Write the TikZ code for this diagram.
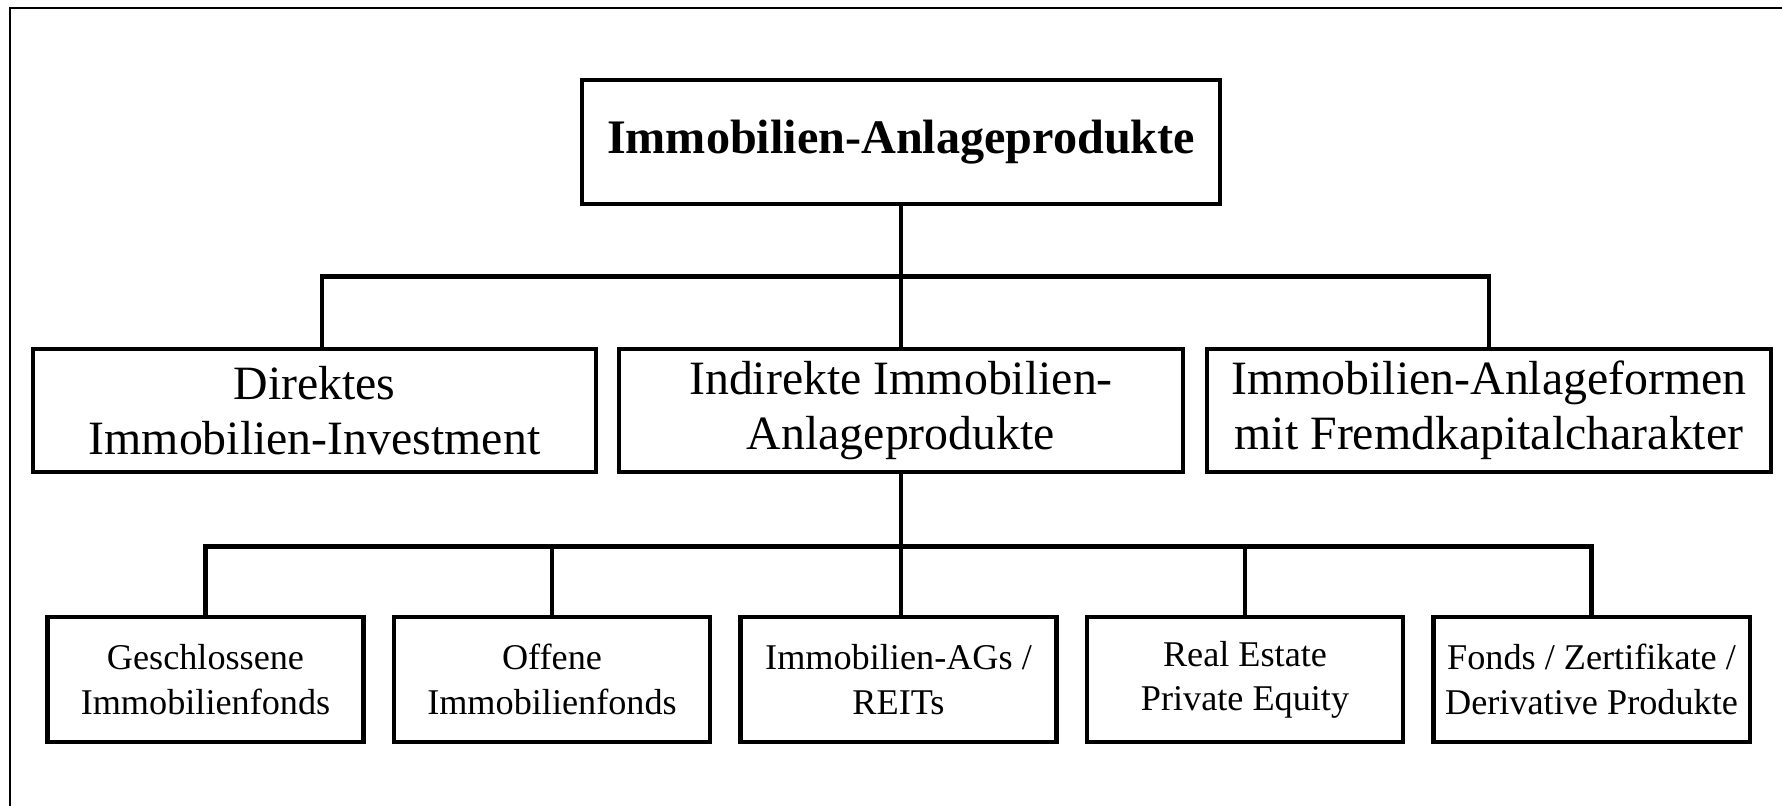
\documentclass[tikz,border=0pt]{standalone}
\usepackage{fontspec}
\setmainfont{Liberation Serif}
\usetikzlibrary{positioning}

\tikzset{
  box/.style={draw, line width=1.2pt, inner sep=0pt, outer sep=0pt, align=center},
  topbox/.style={box, minimum width=6.37cm, minimum height=1.24cm, font=\fontsize{13.7}{16}\selectfont\bfseries},
  midbox/.style={box, minimum width=5.63cm, minimum height=1.23cm, font=\fontsize{13.6}{15.5}\selectfont},
  lowbox/.style={box, minimum width=3.16cm, minimum height=1.25cm, font=\fontsize{10.3}{12.6}\selectfont},
  link/.style={line width=1.3pt}
}

\begin{document}
\begin{tikzpicture}[x=0.01cm, y=-0.01cm]
  \useasboundingbox (0,0) rectangle (1782,806);
  % Frame
  \coordinate (f1) at (10,806);
  \coordinate (f2) at (1782,8);
  \draw[line width=0.8pt] (f1) |- (f2);

  % Nodes
  \node[topbox, text depth=0.1cm] (t) at (901,142) {Immobilien-Anlageprodukte};

  \foreach \i/\x/\txt in {1/314.5/{Direktes\\Immobilien-Investment},
                          2/901/{Indirekte Immobilien-\\Anlageprodukte},
                          3/1489/{Immobilien-Anlageformen\\mit Fremdkapitalcharakter}}{
    \node[midbox] (m\i) at (\x,410.5) {\txt};
  }

  \foreach \i/\txt in {1/{Geschlossene\\Immobilienfonds},
                       2/{Offene\\Immobilienfonds},
                       3/{Immobilien-AGs /\\REITs},
                       4/{Real Estate\\Private Equity},
                       5/{Fonds / Zertifikate /\\Derivative Produkte}}{
    \node[lowbox] (b\i) at ({205.5+346.5*(\i-1)},679.5) {\txt};
  }

  % Edges
  \coordinate (j1) at (901,276.5);
  \coordinate (j2) at (901,546.5);
  \draw[link] (t.south) -- (m2.north);
  \draw[link] ([xshift=0.075cm]m1.north) |- (j1) -| (m3.north);

  \draw[link] (m2.south) -- (m2.south |- b3.north);
  \draw[link] (b1.north) |- (j2) -| (b5.north);
  \foreach \i in {2,4}{
    \draw[link] (b\i.north) -- (b\i.north |- j2);
  }
\end{tikzpicture}
\end{document}
